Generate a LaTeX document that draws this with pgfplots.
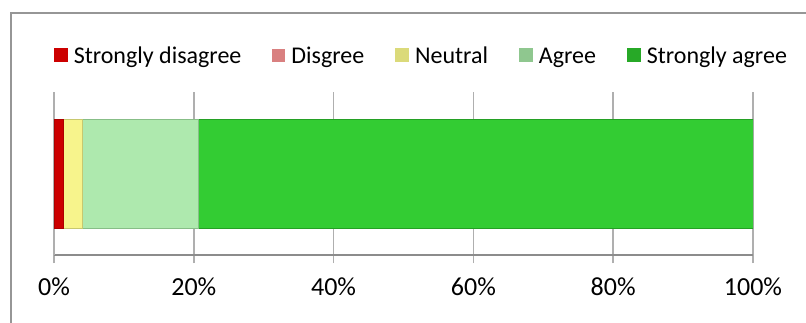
\documentclass[border=0pt]{standalone}
\usepackage{fontspec}
\setmainfont{Carlito}
\usepackage{pgfplots}
\pgfplotsset{compat=1.18}
\definecolor{sd}{RGB}{204,0,0}
\definecolor{dis}{RGB}{217,128,128}
\definecolor{neu}{RGB}{247,244,140}
\definecolor{neuL}{RGB}{200,200,110}
\definecolor{agr}{RGB}{174,233,174}
\definecolor{agrL}{RGB}{135,190,135}
\definecolor{sag}{RGB}{51,204,51}
\definecolor{sagL}{RGB}{36,160,36}
\definecolor{gridc}{RGB}{175,175,175}
\definecolor{axc}{RGB}{140,140,140}
\definecolor{framec}{RGB}{150,150,150}
\begin{document}
\begin{tikzpicture}
\useasboundingbox (0pt,0pt) rectangle (604.5pt,-241.5pt);
\fill[white] (0pt,0pt) rectangle (604.5pt,-241.5pt);
\draw[framec, line width=1.5pt] (8pt,-9.4pt) rectangle (640pt,-280pt);
\begin{axis}[
  at={(40.5pt,-191.25pt)}, anchor=south west,
  scale only axis, width=524.25pt, height=122.25pt,
  xbar stacked, bar width=81.75pt,
  xmin=0, xmax=100, ymin=-1, ymax=1,
  xtick={0,20,40,60,80,100}, ytick=\empty,
  xticklabel={\pgfmathprintnumber{\tick}\%},
  /pgf/number format/assume math mode=true,
  xticklabel style={font=\fontsize{19.5}{22}\selectfont, yshift=-7.5pt},
  axis x line*=bottom, axis y line*=left,
  x axis line style={axc, line width=1.1pt, -},
  y axis line style={gridc, line width=1.1pt, -},
  xmajorgrids, major grid style={gridc, line width=1.1pt},
  tick align=outside, major tick length=6pt,
  tick style={gridc, line width=1.1pt},
  legend columns=5,
  legend style={draw=none, fill=none, inner sep=0pt, outer sep=0pt,
    at={(0,1)}, anchor=west, yshift=26.25pt,
    font=\fontsize{18}{21}\selectfont,
    nodes={inner sep=0pt, outer sep=0pt, text height=13pt, text depth=4pt},
    column sep=4.5pt,
    /tikz/every even column/.append style={column sep=23.25pt}},
]
\addplot[fill=sd, draw=sd!85!black, line width=0.6pt,
  legend image code/.code={\fill[sd] (0pt,-3.4pt) rectangle (9.75pt,6.35pt);}]
  coordinates {(1.4,0)};
\addplot[fill=dis, draw=none,
  legend image code/.code={\fill[dis] (0pt,-3.4pt) rectangle (9.75pt,6.35pt);}]
  coordinates {(0,0)};
\addplot[fill=neu, draw=neuL, line width=0.6pt,
  legend image code/.code={\fill[neuL!60!neu] (0pt,-3.4pt) rectangle (9.75pt,6.35pt);}]
  coordinates {(2.6,0)};
\addplot[fill=agr, draw=agrL, line width=0.6pt,
  legend image code/.code={\fill[agrL!80!agr] (0pt,-3.4pt) rectangle (9.75pt,6.35pt);}]
  coordinates {(16.7,0)};
\addplot[fill=sag, draw=sagL, line width=0.6pt,
  legend image code/.code={\fill[sagL!80!sag] (0pt,-3.4pt) rectangle (9.75pt,6.35pt);}]
  coordinates {(79.3,0)};
\legend{Strongly disagree, Disgree, Neutral, Agree, Strongly agree}
\end{axis}
\end{tikzpicture}
\end{document}
